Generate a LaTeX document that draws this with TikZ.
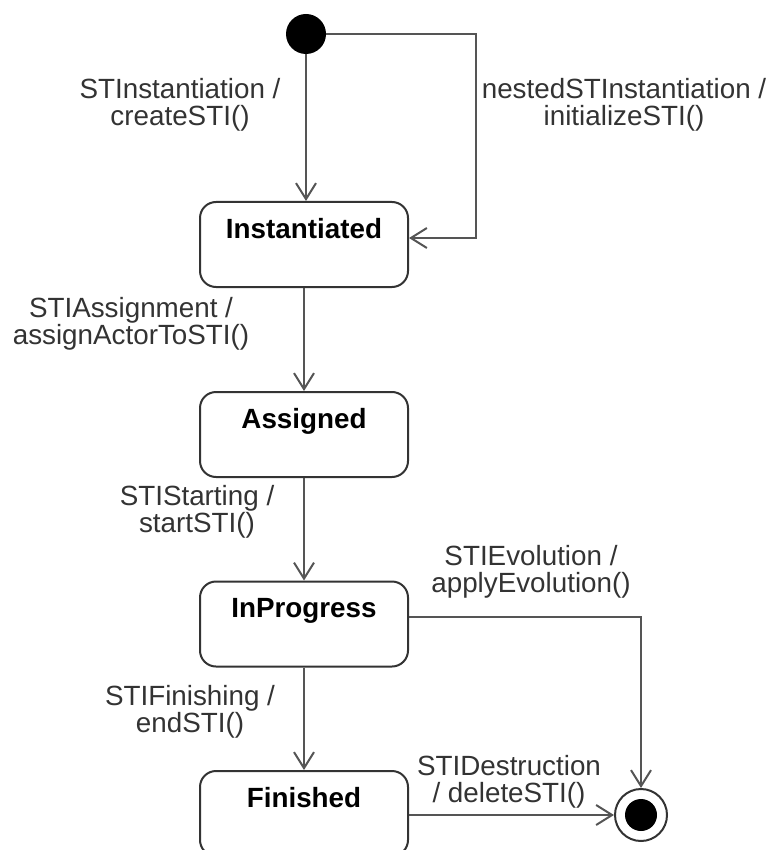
\documentclass[tikz,border=0pt]{standalone}
\usepackage{fontspec}
\setmainfont{Liberation Sans}
\usetikzlibrary{arrows.meta}
\definecolor{ln}{HTML}{555555}
\definecolor{tx}{HTML}{333333}
\begin{document}
\begin{tikzpicture}[x=0.5pt,y=-0.5pt,
  statebox/.style={draw=tx, line width=1pt, rounded corners=8pt, minimum width=104pt,
    inner xsep=0pt, inner ysep=0pt, text height=18pt, text depth=24.5pt,
    font=\fontsize{13.9}{13.5}\selectfont\bfseries, text=black},
  lbl/.style={align=center, inner sep=0pt, text=tx, font=\fontsize{13.9}{13.5}\selectfont},
  arr/.style={draw=ln, line width=1pt, -{Straight Barb[length=8pt,width=10pt]}}]
\useasboundingbox (0,0) rectangle (771,850);
\clip (0,0) rectangle (771,850);

% states
\node[statebox] (Inst) at (304,244.5) {Instantiated};
\node[statebox] (Asg)  at (304,434.5) {Assigned};
\node[statebox] (Prog) at (304,624)   {InProgress};
\node[statebox] (Fin)  at (304,813.5) {Finished};

% pseudo states
\node[circle, fill=black, inner sep=0pt, minimum size=20pt] (init) at (306,34) {};
\node[circle, draw=tx, line width=1pt, inner sep=0pt, minimum size=26pt] (final) at (641,815) {};
\fill[black] (final.center) circle (8pt);
\coordinate (lp) at (476,34);

% transitions
\draw[arr] (init) -- (init |- Inst.north);
\draw[arr] (init) -- (lp) |- ([yshift=3.25pt]Inst.east);
\draw[arr] (Inst) -- (Asg);
\draw[arr] (Asg) -- (Prog);
\draw[arr] (Prog) -- (Fin);
\draw[arr] ([yshift=3.5pt]Prog.east) -| (final.north);
\draw[arr] (Fin.east |- final.west) -- (final.west);

% labels
\node[lbl] (l1) at (180,104.5) {STInstantiation /\\createSTI()};
\node[lbl] (l2) at (624,104.5) {nestedSTInstantiation /\\initializeSTI()};
\node[lbl] (l3) at (131,324)   {STIAssignment /\\assignActorToSTI()};
\node[lbl] (l4) at (197,512)   {STIStarting /\\startSTI()};
\node[lbl] (l5) at (531,571.5) {STIEvolution /\\applyEvolution()};
\node[lbl] (l6) at (190,711.5) {STIFinishing /\\endSTI()};
\node[lbl] (l7) at (509,781.5) {STIDestruction\\/ deleteSTI()};
\end{tikzpicture}
\end{document}
